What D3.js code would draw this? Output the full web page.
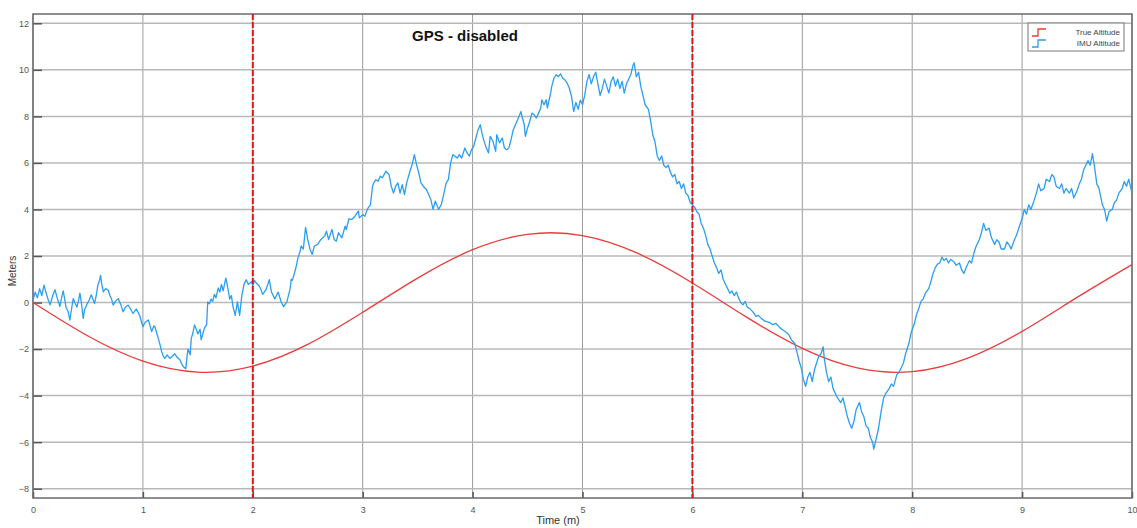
<!DOCTYPE html>
<html>
<head>
<meta charset="utf-8">
<script src="https://cdn.jsdelivr.net/npm/d3@7"></script>
<style>
  html, body { margin: 0; padding: 0; background: #ffffff; }
  #chart { width: 1137px; height: 528px; }
  text { font-family: "Liberation Sans", Arial, sans-serif; }
</style>
</head>
<body>
<div id="chart"></div>
<script>
// Tick values
const xTicks = [0, 1, 2, 3, 4, 5, 6, 7, 8, 9, 10];
const yTicks = [-8, -6, -4, -2, 0, 2, 4, 6, 8, 10, 12];

// GPS outage window (minutes)
const gpsMarkers = [2, 6];

// True altitude, read every 0.5 min
const trueTime = [0, 0.5, 1, 1.5, 2, 2.5, 3, 3.5, 4, 4.5, 5, 5.5, 6, 6.5, 7, 7.5, 8, 8.5, 9, 9.5, 10];
const trueAlt = [0, -1.44, -2.52, -2.99, -2.73, -1.8, -0.42, 1.05, 2.27, 2.93, 2.88, 2.12, 0.84, -0.65, -1.97, -2.81, -2.97, -2.4, -1.24, 0.22, 1.63];

// IMU altitude [time, meters]
const imuSamples = [
  [0,0.1],[0.02,0.45],[0.04,0.2],[0.06,0.6],[0.08,0.3],[0.1,0.75],[0.12,0.4],[0.14,0.1],[0.155,-0.1],[0.18,0.3],
  [0.2,0.55],[0.22,0.2],[0.245,-0.17],[0.26,0.2],[0.275,0.5],[0.29,0.1],[0.3,-0.2],[0.32,-0.4],[0.336,-0.75],[0.35,-0.3],
  [0.366,0.17],[0.38,0.0],[0.4,-0.2],[0.415,0.1],[0.427,0.4],[0.44,0.0],[0.457,-0.68],[0.47,-0.3],[0.49,-0.08],[0.51,0.1],
  [0.53,0.33],[0.545,0.15],[0.56,-0.04],[0.575,0.3],[0.59,0.74],[0.605,0.95],[0.615,1.17],[0.625,0.8],[0.64,0.46],[0.66,0.6],
  [0.685,0.53],[0.7,0.3],[0.715,0.15],[0.73,-0.11],[0.75,0.05],[0.775,0.17],[0.8,-0.1],[0.82,-0.4],[0.84,-0.2],[0.866,-0.11],
  [0.89,-0.3],[0.91,-0.47],[0.94,-0.28],[0.97,-0.54],[0.985,-0.8],[1.0,-1.04],[1.02,-0.85],[1.05,-0.75],[1.065,-1.0],[1.08,-1.25],
  [1.1,-1.0],[1.11,-1.05],[1.125,-1.3],[1.14,-1.54],[1.155,-1.8],[1.17,-2.1],[1.185,-2.3],[1.2,-2.4],
  [1.22,-2.25],[1.245,-2.4],[1.27,-2.3],[1.29,-2.2],[1.31,-2.35],[1.336,-2.45],[1.35,-2.6],[1.366,-2.75],[1.39,-2.85],[1.40,-2.4],
  [1.41,-2.0],[1.43,-2.25],[1.44,-1.55],[1.455,-1.3],[1.47,-0.96],[1.49,-1.2],[1.5,-1.35],[1.52,-1.15],[1.53,-1.6],[1.545,-1.35],
  [1.56,-1.1],[1.58,-0.95],[1.59,0.03],[1.605,-0.05],[1.62,0.15],[1.635,0.05],[1.65,0.35],[1.665,0.2],[1.685,0.63],[1.7,0.45],
  [1.715,0.78],[1.73,0.5],[1.745,0.85],[1.755,1.05],[1.77,0.7],[1.79,0.15],[1.805,0.3],[1.82,-0.18],[1.84,-0.55],[1.86,0.03],
  [1.88,-0.55],[1.9,0.3],[1.92,0.78],[1.94,0.98],[1.96,0.78],[1.99,0.9],[2.0,0.7],[2.015,0.95],[2.03,0.85],[2.06,0.7],
  [2.075,0.55],[2.09,0.35],[2.12,0.55],[2.135,0.75],[2.15,0.98],[2.17,0.45],[2.2,0.15],[2.23,0.45],[2.26,0.0],[2.28,-0.18],
  [2.31,0.03],[2.34,0.6],[2.35,1.0],[2.36,0.95],[2.39,1.45],[2.41,1.9],[2.43,2.2],
  [2.44,2.43],[2.46,2.3],[2.48,3.23],[2.5,2.7],[2.52,2.3],[2.54,2.07],[2.56,2.43],[2.59,2.5],[2.62,2.71],[2.655,2.86],
  [2.67,3.07],[2.69,2.71],[2.72,3.14],[2.74,2.71],[2.76,2.64],[2.78,3.0],[2.81,2.78],[2.84,3.28],[2.85,3.14],[2.875,3.6],
  [2.9,3.57],[2.93,3.71],[2.96,3.93],[2.97,3.64],[3.0,3.78],[3.02,3.71],[3.03,3.86],[3.05,4.07],[3.07,4.2],[3.08,4.6],
  [3.09,5.0],[3.1,5.14],[3.12,5.28],[3.14,5.21],[3.16,5.43],[3.18,5.36],[3.21,5.64],[3.24,5.5],[3.26,5.0],[3.28,4.7],
  [3.3,5.0],[3.32,5.14],[3.34,4.7],[3.36,5.07],[3.38,4.64],[3.4,5.14],[3.43,5.64],[3.45,5.93],[3.47,6.36],[3.49,5.93],
  [3.51,5.57],[3.53,5.14],[3.55,5.0],[3.58,4.86],[3.6,4.64],[3.62,4.43],[3.64,4.0],[3.66,4.36],[3.685,4.07],
  [3.69,4.0],[3.715,4.21],[3.74,4.71],[3.76,5.14],[3.78,5.29],[3.8,6.0],[3.82,6.36],[3.84,6.29],[3.86,6.21],[3.88,6.36],
  [3.9,6.21],[3.93,6.64],[3.95,6.43],[3.97,6.29],[3.99,6.57],[4.01,6.71],[4.03,7.07],[4.05,7.43],[4.07,7.64],[4.085,7.29],
  [4.1,7.0],[4.12,6.71],[4.145,6.43],[4.16,7.14],[4.185,6.93],[4.21,6.5],[4.22,7.21],[4.245,6.86],[4.27,7.07],[4.29,6.64],
  [4.31,6.57],[4.33,6.64],[4.35,7.0],[4.37,7.43],[4.39,7.64],[4.41,7.86],[4.44,8.21],[4.45,8.0],[4.47,7.64],[4.48,7.14],
  [4.5,7.5],[4.52,7.79],[4.54,8.14],[4.56,8.07],[4.58,7.93],[4.6,8.14],[4.62,8.36],[4.63,8.71],[4.65,8.5],[4.67,8.71],
  [4.68,8.36],[4.71,9.0],[4.72,9.29],[4.74,9.64],[4.76,9.79],[4.78,9.71],[4.8,9.83],[4.82,9.64],[4.84,9.57],[4.86,9.43],
  [4.88,9.21],[4.9,8.86],[4.92,8.21],
  [4.94,8.6],[4.96,8.3],[4.98,8.7],[5.0,8.5],[5.02,8.9],[5.04,9.5],[5.06,9.8],[5.08,9.4],[5.1,9.7],[5.12,9.9],
  [5.14,9.4],[5.16,8.9],[5.18,9.2],[5.2,9.6],[5.22,9.3],[5.24,9.0],[5.26,9.5],[5.28,9.7],[5.3,9.3],[5.32,9.6],
  [5.34,9.2],[5.36,9.5],[5.38,9.0],[5.4,9.4],[5.42,9.6],[5.44,9.8],[5.46,10.2],[5.47,10.3],[5.49,9.7],[5.51,9.9],
  [5.53,9.3],[5.55,8.9],[5.57,8.5],[5.6,8.3],[5.62,7.8],[5.64,7.2],[5.66,6.9],[5.68,6.3],[5.7,6.1],[5.72,6.3],
  [5.74,5.9],[5.76,5.8],[5.78,5.9],[5.8,5.6],[5.82,5.4],[5.84,5.5],[5.86,5.1],[5.88,5.2],[5.9,4.9],[5.92,5.1],
  [5.94,4.7],[5.96,4.6],[5.98,4.3],[6.0,4.2],[6.02,4.1],[6.04,3.9],[6.06,3.8],[6.08,3.4],[6.1,3.2],[6.12,2.9],
  [6.14,2.5],[6.16,2.3],[6.18,2.0],[6.2,1.7],[6.22,1.5],[6.24,1.25],[6.26,1.4],[6.28,1.0],[6.3,0.8],[6.32,0.6],
  [6.34,0.4],[6.36,0.5],[6.38,0.3],[6.4,0.45],[6.42,0.2],[6.44,0.0],[6.46,-0.1],[6.48,0.05],[6.5,-0.2],[6.52,-0.25],
  [6.55,-0.4],[6.58,-0.6],[6.6,-0.55],[6.63,-0.7],[6.66,-0.8],[6.7,-0.85],[6.73,-0.95],[6.76,-0.9],[6.8,-1.1],[6.83,-1.2],
  [6.86,-1.3],[6.88,-1.4],[6.9,-1.6],[6.93,-1.75],[6.95,-2.1],[6.97,-2.5],[6.99,-2.8],[7.01,-3.3],[7.03,-3.6],[7.05,-3.2],
  [7.07,-3.0],[7.09,-3.4],[7.11,-2.9],[7.13,-2.6],[7.15,-2.3],[7.17,-2.2],[7.19,-1.9],[7.2,-2.4],[7.22,-3.0],[7.24,-3.4],
  [7.26,-3.2],[7.28,-3.7],[7.3,-3.9],[7.32,-4.1],[7.35,-4.3],[7.37,-4.1],[7.39,-4.5],[7.41,-4.9],[7.43,-5.2],[7.45,-5.4],
  [7.47,-5.1],[7.49,-4.6],[7.52,-4.3],[7.54,-4.7],[7.56,-4.9],[7.58,-5.3],[7.6,-5.4],[7.62,-5.8],[7.64,-6.0],[7.65,-6.3],
  [7.67,-5.9],[7.69,-5.5],[7.7,-5.2],[7.72,-4.6],[7.74,-4.1],[7.76,-3.9],[7.79,-3.7],[7.81,-3.5],[7.83,-3.6],[7.86,-3.1],
  [7.88,-3.0],[7.9,-2.8],[7.92,-2.6],[7.94,-2.2],[7.97,-1.75],[7.99,-1.3],[8.02,-0.9],[8.04,-0.5],[8.06,-0.25],[8.08,0.05],
  [8.1,0.15],[8.12,0.4],[8.15,0.6],[8.17,0.9],[8.19,1.25],[8.21,1.5],[8.23,1.65],[8.25,1.7],[8.27,1.95],[8.29,1.8],
  [8.31,1.9],[8.33,1.7],[8.35,1.85],[8.38,1.75],[8.4,1.6],[8.43,1.7],[8.45,1.4],[8.47,1.25],[8.5,1.6],[8.52,1.8],
  [8.54,1.7],[8.56,2.1],[8.58,2.4],[8.61,2.7],[8.63,3.0],[8.65,3.4],[8.67,3.1],[8.7,3.2],[8.72,2.8],[8.75,2.5],
  [8.77,2.7],[8.79,2.6],[8.81,2.3],[8.84,2.3],[8.86,2.6],[8.88,2.5],[8.9,2.3],[8.93,2.7],[8.95,2.9],[8.97,3.2],
  [9.0,3.6],[9.02,4.0],[9.04,3.8],[9.06,4.2],[9.08,4.0],[9.11,4.4],[9.13,4.7],[9.15,5.1],[9.17,4.8],[9.2,4.9],
  [9.22,5.3],[9.25,5.2],[9.27,5.5],[9.29,5.4],[9.31,5.0],[9.34,4.9],[9.36,5.1],[9.38,4.7],[9.4,4.9],[9.43,4.7],
  [9.45,4.9],[9.47,4.5],[9.5,4.8],[9.52,5.1],[9.54,5.3],[9.56,5.7],[9.58,5.9],[9.6,6.1],[9.62,5.9],[9.64,6.4],
  [9.66,5.8],[9.68,5.1],[9.7,4.9],[9.73,4.2],[9.75,4.0],[9.77,3.5],[9.79,3.9],[9.82,4.0],[9.84,4.3],[9.86,4.4],
  [9.88,4.7],[9.91,4.9],[9.93,5.2],[9.95,5.0],[9.97,5.3],[10.0,4.7]
];

const legendLabels = ['True Altitude', 'IMU Altitude'];
const colors = { truth: '#ec3b3b', imu: '#2a9ff0', marker: '#e0161b' };

// Layout
const width = 1137, height = 528;
const margin = { top: 14, right: 5, bottom: 30, left: 33 };

const svg = d3.select('#chart')
  .append('svg')
  .attr('width', width)
  .attr('height', height);

const x = d3.scaleLinear().domain([0, 10]).range([margin.left, width - margin.right]);
const y = d3.scaleLinear().domain([-8.4, 12.4]).range([height - margin.bottom, margin.top]);

const plotLeft = x.range()[0], plotRight = x.range()[1];
const plotTop = y.range()[1], plotBottom = y.range()[0];

// Grid
const grid = svg.append('g').attr('class', 'grid');
grid.selectAll('.vgrid')
  .data(xTicks)
  .enter().append('line')
  .attr('x1', d => x(d)).attr('x2', d => x(d))
  .attr('y1', plotTop).attr('y2', plotBottom)
  .attr('stroke', '#9a9a9a')
  .attr('stroke-width', 1);
grid.selectAll('.hgrid')
  .data(yTicks)
  .enter().append('line')
  .attr('x1', plotLeft).attr('x2', plotRight)
  .attr('y1', d => y(d)).attr('y2', d => y(d))
  .attr('stroke', '#b8b8b8')
  .attr('stroke-width', 1.5);

// Axes with inward ticks
const xAxis = svg.append('g')
  .attr('transform', `translate(0,${plotBottom})`)
  .call(d3.axisBottom(x).tickValues(xTicks).tickSizeInner(-6).tickSizeOuter(0).tickPadding(9));
const yAxis = svg.append('g')
  .attr('transform', `translate(${plotLeft},0)`)
  .call(d3.axisLeft(y).tickValues(yTicks).tickSizeInner(-9).tickSizeOuter(0).tickPadding(4));

[xAxis, yAxis].forEach(ax => {
  ax.select('.domain').remove();
  ax.selectAll('line').attr('stroke', '#555').attr('stroke-width', 1.5);
  ax.selectAll('text')
    .attr('fill', '#555')
    .attr('font-size', '9px')
    .attr('font-family', '"DejaVu Sans", sans-serif');
});

// Frame
svg.append('rect')
  .attr('x', plotLeft).attr('y', plotTop)
  .attr('width', plotRight - plotLeft).attr('height', plotBottom - plotTop)
  .attr('fill', 'none')
  .attr('stroke', '#6a6a6a')
  .attr('stroke-width', 1.5);

// True altitude line
const trueLine = d3.line()
  .x((d, i) => x(trueTime[i]))
  .y(d => y(d))
  .curve(d3.curveNatural);
svg.append('path')
  .datum(trueAlt)
  .attr('d', trueLine)
  .attr('fill', 'none')
  .attr('stroke', colors.truth)
  .attr('stroke-width', 1.3);

// IMU altitude line
const imuLine = d3.line()
  .x(d => x(d[0]))
  .y(d => y(d[1]));
svg.append('path')
  .datum(imuSamples)
  .attr('d', imuLine)
  .attr('fill', 'none')
  .attr('stroke', colors.imu)
  .attr('stroke-width', 1.3)
  .attr('stroke-linejoin', 'round');

// GPS markers
svg.selectAll('.gps-marker')
  .data(gpsMarkers)
  .enter().append('line')
  .attr('class', 'gps-marker')
  .attr('x1', d => x(d)).attr('x2', d => x(d))
  .attr('y1', plotTop).attr('y2', plotBottom)
  .attr('stroke', colors.marker)
  .attr('stroke-width', 2)
  .attr('stroke-dasharray', '6,2');

// Title
svg.append('text')
  .attr('x', 465).attr('y', 41)
  .attr('text-anchor', 'middle')
  .attr('font-size', '15px')
  .attr('font-weight', 'bold')
  .attr('fill', '#111')
  .text('GPS - disabled');

// Axis labels
svg.append('text')
  .attr('x', 558).attr('y', 524)
  .attr('text-anchor', 'middle')
  .attr('font-size', '11px')
  .attr('font-family', '"DejaVu Sans", sans-serif')
  .attr('fill', '#333')
  .text('Time (m)');
svg.append('text')
  .attr('transform', 'translate(16,271) rotate(-90)')
  .attr('text-anchor', 'middle')
  .attr('font-size', '10px')
  .attr('font-family', '"DejaVu Sans", sans-serif')
  .attr('fill', '#333')
  .text('Meters');

// Legend
const legend = svg.append('g').attr('transform', 'translate(1028,23)');
legend.append('rect')
  .attr('width', 96).attr('height', 28)
  .attr('fill', '#fff')
  .attr('stroke', '#777')
  .attr('stroke-width', 1);
const legendColors = [colors.truth, colors.imu];
const items = legend.selectAll('.item')
  .data(legendLabels)
  .enter().append('g')
  .attr('transform', (d, i) => `translate(0,${9 + i * 11})`);
items.append('path')
  .attr('d', 'M4,4 H10 V-3 H18')
  .attr('fill', 'none')
  .attr('stroke', (d, i) => legendColors[i])
  .attr('stroke-width', 1.3);
items.append('text')
  .attr('x', 92).attr('y', 3)
  .attr('text-anchor', 'end')
  .attr('font-size', '8px')
  .attr('fill', '#444')
  .text(d => d);
</script>
</body>
</html>
